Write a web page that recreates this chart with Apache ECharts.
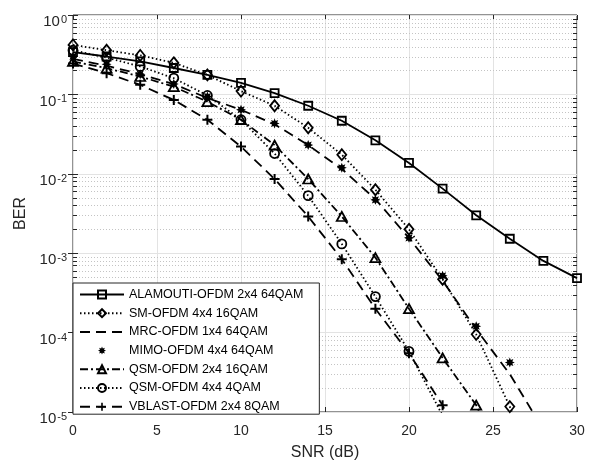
<!DOCTYPE html>
<html>
<head>
<meta charset="utf-8">
<script src="https://cdn.jsdelivr.net/npm/echarts@6/dist/echarts.min.js"></script>
<style>
  html, body { margin: 0; padding: 0; background: #fff; }
  #chart { width: 592px; height: 466px; }
</style>
</head>
<body>
<div id="chart"></div>
<script>
// SNR points (dB)
const snr = [0, 2, 4, 6, 8, 10, 12, 14, 16, 18, 20, 22, 24, 26, 28, 30]

// BER values
const alamouti = [0.34, 0.30, 0.26, 0.215, 0.176, 0.14, 0.104, 0.072, 0.0466, 0.0264, 0.0137, 0.0065, 0.0030, 0.00152, 0.00080, 0.000486]
const smOfdm = [0.42, 0.36, 0.31, 0.25, 0.176, 0.11, 0.072, 0.038, 0.0174, 0.0063, 0.0020, 0.00047, 9.5e-5, 1.17e-5, 1e-6]
const mrcOfdm = [0.28, 0.23, 0.18, 0.135, 0.09, 0.064, 0.042, 0.023, 0.0115, 0.0048, 0.00155, 0.00045, 1.1e-4, 3e-5, 6e-6]
const mimoOfdm = [0.30, 0.24, 0.18, 0.135, 0.094, 0.064, 0.043, 0.023, 0.0119, 0.0047, 0.00156, 0.00052, 1.2e-4, 4.2e-5]
const qsm16 = [0.26, 0.214, 0.168, 0.125, 0.081, 0.048, 0.023, 0.0086, 0.0029, 0.00088, 0.0002, 4.8e-5, 1.22e-5, 1.5e-6]
const qsm4 = [0.36, 0.29, 0.225, 0.16, 0.097, 0.048, 0.018, 0.0053, 0.00131, 0.000284, 5.8e-5, 9e-6]
const vblast = [0.245, 0.185, 0.132, 0.085, 0.048, 0.022, 0.0086, 0.0029, 0.00084, 0.0002, 5.5e-5, 1.22e-5, 1e-6]

const names = ['ALAMOUTI-OFDM 2x4 64QAM', 'SM-OFDM 4x4 16QAM', 'MRC-OFDM 1x4 64QAM', 'MIMO-OFDM 4x4 64QAM',
  'QSM-OFDM 2x4 16QAM', 'QSM-OFDM 4x4 4QAM', 'VBLAST-OFDM 2x4 8QAM']

const fontFamily = "'Liberation Sans', Arial, sans-serif"
const ink = '#262626'

// hand drawn marker shapes
const plusPath = 'path://M4,0h2v4h4v2h-4v4h-2v-4h-4v-2h4z'
const starPath = 'path://M50 0L60.5 24.6L85.4 14.6L75.4 39.5L100 50L75.4 60.5L85.4 85.4L60.5 75.4L50 100L39.5 75.4L14.6 85.4L24.6 60.5L0 50L24.6 39.5L14.6 14.6L39.5 24.6Z'

// minor log grid positions (2..9 per decade)
const minorLines = []
for (let e = -5; e < 0; e++) {
  for (let m = 2; m <= 9; m++) minorLines.push([0, m * Math.pow(10, e)])
}

function pairs (vals) {
  return vals.map((v, i) => [snr[i], v])
}

function lineSeries (name, vals, symbol, size, dash, hollow) {
  return {
    name: name,
    type: 'line',
    data: pairs(vals),
    symbol: symbol,
    symbolSize: size,
    showAllSymbol: true,
    clip: true,
    lineStyle: { color: '#000', width: 1.8, type: dash, cap: 'butt' },
    itemStyle: hollow
      ? { color: 'rgba(255,255,255,0)', borderColor: '#000', borderWidth: 1.8 }
      : { color: '#000', borderWidth: 0 },
    z: 3
  }
}

function renderMinor (params, api) {
  const cs = params.coordSys
  const y = Math.round(api.coord([0, api.value(1)])[1]) + 0.5
  return {
    type: 'group',
    children: [
      { type: 'line', shape: { x1: cs.x, y1: y, x2: cs.x + cs.width, y2: y }, style: { stroke: '#c4c4c4', lineWidth: 1, lineDash: [1, 2] } },
      { type: 'line', shape: { x1: cs.x, y1: y, x2: cs.x + 4, y2: y }, style: { stroke: ink, lineWidth: 1 } },
      { type: 'line', shape: { x1: cs.x + cs.width - 4, y1: y, x2: cs.x + cs.width, y2: y }, style: { stroke: ink, lineWidth: 1 } }
    ]
  }
}

const legendData = names.map(n => n === names[2]
  ? { name: n, itemStyle: { opacity: 0 } }
  : { name: n })

const chart = echarts.init(document.getElementById('chart'))
chart.setOption({
  animation: false,
  backgroundColor: '#fff',
  textStyle: { fontFamily: fontFamily },
  grid: { left: 73, right: 15, top: 15, bottom: 53, show: true, borderColor: ink, borderWidth: 1, backgroundColor: '#fff' },
  legend: {
    data: legendData,
    orient: 'vertical',
    left: 73,
    top: 283,
    padding: [5, 16, 1, 6],
    itemGap: 5.7,
    itemWidth: 44,
    itemHeight: 10,
    selectedMode: false,
    backgroundColor: '#fff',
    borderColor: ink,
    borderWidth: 1,
    textStyle: { fontSize: 12.5, color: '#000', fontFamily: fontFamily }
  },
  xAxis: [
    {
      type: 'value',
      min: 0,
      max: 30,
      interval: 5,
      name: 'SNR (dB)',
      nameLocation: 'middle',
      nameGap: 33,
      nameTextStyle: { fontSize: 16, color: ink },
      axisLine: { show: false },
      axisTick: { show: true, inside: true, length: 5, lineStyle: { color: ink } },
      axisLabel: { fontSize: 14, color: ink, margin: 12 },
      splitLine: { show: true, lineStyle: { color: '#e3e3e3', width: 1 } }
    },
    {
      type: 'value',
      position: 'top',
      min: 0,
      max: 30,
      interval: 5,
      axisLine: { show: false },
      axisTick: { show: true, inside: true, length: 5, lineStyle: { color: ink } },
      axisLabel: { show: false },
      splitLine: { show: false }
    }
  ],
  yAxis: [
    {
      type: 'log',
      logBase: 10,
      min: 1e-5,
      max: 1,
      name: 'BER',
      nameLocation: 'middle',
      nameGap: 37,
      nameTextStyle: { fontSize: 16, color: ink },
      axisLine: { show: false },
      axisTick: { show: true, inside: true, length: 5, lineStyle: { color: ink } },
      axisLabel: {
        margin: 6,
        padding: [14, 0, 0, 0],
        formatter: function (v) {
          return '{b|10}{s|' + Math.round(Math.log10(v)) + '}'
        },
        rich: {
          b: { fontSize: 15, lineHeight: 15, color: ink, verticalAlign: 'bottom', fontFamily: fontFamily },
          s: { fontSize: 11, lineHeight: 11, color: ink, verticalAlign: 'top', padding: [0, 0, 8, 1], fontFamily: fontFamily }
        }
      },
      splitLine: { show: true, lineStyle: { color: '#e3e3e3', width: 1 } }
    },
    {
      type: 'log',
      logBase: 10,
      min: 1e-5,
      max: 1,
      position: 'right',
      axisLine: { show: false },
      axisTick: { show: true, inside: true, length: 5, lineStyle: { color: ink } },
      axisLabel: { show: false },
      splitLine: { show: false }
    }
  ],
  series: [
    {
      type: 'custom',
      renderItem: renderMinor,
      data: minorLines,
      silent: true,
      z: 1,
      encode: { x: 0, y: 1 }
    },
    lineSeries(names[0], alamouti, 'rect', 8, 'solid', true),
    lineSeries(names[1], smOfdm, 'diamond', [9, 11], [1.5, 2.5], true),
    lineSeries(names[2], mrcOfdm, 'none', 8, [10, 6], false),
    Object.assign(lineSeries(names[3], mimoOfdm, starPath, 10, 'solid', false), {
      lineStyle: { color: '#000', width: 1.8, opacity: 0 }
    }),
    lineSeries(names[4], qsm16, 'triangle', [10, 9], [8, 3, 2, 3], true),
    lineSeries(names[5], qsm4, 'circle', 9, [1.5, 2.5], true),
    lineSeries(names[6], vblast, plusPath, 10, [10, 6], false)
  ]
})
</script>
</body>
</html>
